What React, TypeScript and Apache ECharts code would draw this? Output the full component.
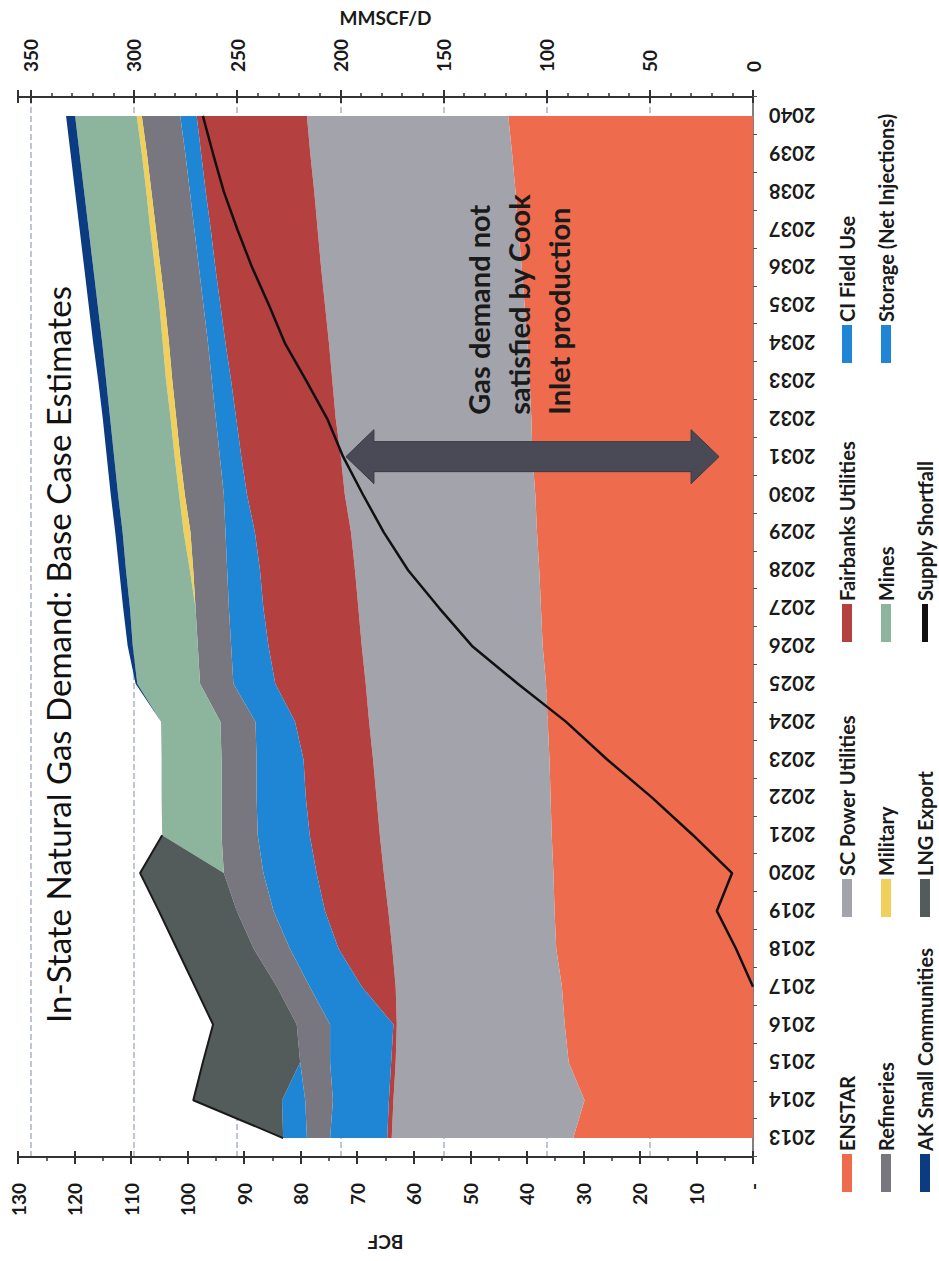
import React, { useEffect, useRef } from 'react';
import * as echarts from 'echarts';

// ---------- data (BCF per year) ----------
const YEARS = ['2013','2014','2015','2016','2017','2018','2019','2020','2021','2022','2023','2024','2025','2026','2027','2028','2029','2030','2031','2032','2033','2034','2035','2036','2037','2038','2039','2040'];

const ENSTAR = [31.8, 29.8, 32.6, 33.3, 33.8, 34.8, 35.1, 35.3, 35.6, 35.8, 36.0, 36.3, 36.6, 37.2, 37.5, 37.8, 38.2, 38.5, 39.0, 39.2, 39.5, 39.9, 40.4, 40.9, 41.5, 42.0, 42.6, 43.3];
const SC_POWER = [32.1, 33.8, 30.6, 29.7, 29.4, 29.0, 29.4, 30.0, 30.4, 30.8, 31.2, 31.6, 31.9, 32.0, 32.3, 32.6, 32.9, 33.7, 33.9, 34.6, 34.9, 35.1, 35.3, 35.5, 35.5, 35.6, 35.7, 35.6];
const FAIRBANKS = [0.8, 0.8, 0.8, 0.6, 6.0, 9.5, 11.2, 11.9, 12.4, 12.5, 12.3, 13.1, 16.0, 16.5, 16.8, 16.8, 17.0, 17.3, 17.6, 17.6, 17.9, 18.3, 18.5, 18.7, 18.9, 19.2, 19.3, 19.5];
const CI_FIELD_USE = [10.1, 9.9, 10.8, 11.2, 9.2, 8.6, 9.1, 9.4, 9.2, 8.7, 8.3, 7.0, 7.4, 6.6, 6.1, 5.8, 5.2, 4.1, 3.8, 3.6, 3.4, 3.1, 3.0, 2.9, 2.9, 2.8, 2.8, 2.9];
const REFINERIES = [4.1, 4.9, 5.3, 5.9, 5.8, 6.4, 6.5, 7.0, 6.4, 6.2, 6.2, 6.2, 5.9, 5.9, 5.9, 6.0, 6.2, 6.9, 7.0, 7.0, 7.0, 6.9, 6.8, 6.8, 6.8, 6.8, 6.8, 6.8];
const MILITARY = [0, 0, 0, 0, 0, 0, 0, 0, 0, 0, 0, 0, 0, 0, 0, 0.6, 1.2, 1.0, 1.0, 1.0, 1.1, 1.1, 1.0, 1.0, 1.0, 0.9, 0.9, 0.9];
const MINES = [0, 0, 0, 0, 0, 0, 0, 0, 10.5, 10.6, 10.6, 10.5, 11.1, 11.5, 11.6, 11.3, 10.8, 10.8, 10.7, 10.7, 10.6, 10.7, 10.9, 10.9, 10.9, 11.0, 11.0, 10.9];
const STORAGE = [4.2, 4.1, 0, 0, 0, 0, 0, 0, 0, 0, 0, 0, 0, 0, 0, 0, 0, 0, 0, 0, 0, 0, 0, 0, 0, 0, 0, 0];
const AK_SMALL = [0, 0, 0, 0, 0, 0, 0, 0, 0, 0, 0, 0, 0.3, 0.9, 1.2, 1.2, 1.3, 1.3, 1.3, 1.3, 1.4, 1.6, 1.6, 1.6, 1.6, 1.6, 1.6, 1.6];
const LNG_EXPORT = [0, 15.7, 17.2, 14.8, 14.5, 13.6, 13.8, 14.8, 0, null, null, null, null, null, null, null, null, null, null, null, null, null, null, null, null, null, null, null];
const SUPPLY_SHORTFALL = [null, null, null, null, 0, 3.0, 6.4, 3.7, 10.6, 17.9, 25.8, 33.1, 41.6, 49.7, 55.5, 61.0, 65.3, 69.0, 72.5, 75.3, 79.0, 82.8, 85.6, 88.6, 91.2, 93.6, 95.5, 97.3];

const BCF_MAX = 130;
const MMSCFD_MAX = (BCF_MAX * 1000) / 365;

// annotation anchor (data space)
const ARROW_YEAR = '2031';
const ARROW_FROM = 72;
const ARROW_TO = 6;
const NOTE_VALUE = 48.6;
const NOTE_LINES = ['Gas demand not', 'satisfied by Cook', 'Inlet production'];

const TITLE = 'In-State Natural Gas Demand: Base Case Estimates';

const W = 1261;
const H = 939;
const FONT = 'Lato';
const TXT = '#1a1a1a';

export default function App() {
  const ref = useRef<HTMLDivElement>(null);

  useEffect(() => {
    if (!ref.current) return;
    const chart = echarts.init(ref.current, null, { renderer: 'svg' });

    const area = (name: string, data: any[], color: string, extra: any = {}) => ({
      name,
      type: 'line',
      stack: 'demand',
      data,
      symbol: 'none',
      showSymbol: false,
      color,
      itemStyle: { color },
      lineStyle: { width: 0, color },
      areaStyle: { color, opacity: 1 },
      emphasis: { disabled: true },
      silent: true,
      ...extra,
    });

    const series: any[] = [
      area('ENSTAR', ENSTAR, '#EF6B4E'),
      area('SC Power Utilities', SC_POWER, '#A3A3AB'),
      area('Fairbanks Utilities', FAIRBANKS, '#B4413F'),
      area('CI Field Use', CI_FIELD_USE, '#1E86D4'),
      area('Refineries', REFINERIES, '#78777F'),
      area('Military', MILITARY, '#F0CF5A'),
      area('Mines', MINES, '#8DB49C'),
      area('Storage (Net Injections)', STORAGE, '#1E86D4'),
      area('AK Small Communities', AK_SMALL, '#0B3B80'),
      area('LNG Export', LNG_EXPORT, '#535C5B', {
        lineStyle: { width: 2, color: '#1a1a1a' },
        connectNulls: false,
      }),
      {
        name: 'Supply Shortfall',
        type: 'line',
        data: SUPPLY_SHORTFALL,
        symbol: 'none',
        showSymbol: false,
        color: '#111',
        itemStyle: { color: '#111' },
        lineStyle: { width: 2.5, color: '#111' },
        emphasis: { disabled: true },
        silent: true,
        z: 5,
      },
    ];

    const colLeft = [69, 344, 619, 898];
    const rowMid = [849, 888, 927];
    const legendItems = [
      ['ENSTAR', 0, 0], ['SC Power Utilities', 1, 0], ['Fairbanks Utilities', 2, 0], ['CI Field Use', 3, 0],
      ['Refineries', 0, 1], ['Military', 1, 1], ['Mines', 2, 1], ['Storage (Net Injections)', 3, 1],
      ['AK Small Communities', 0, 2], ['LNG Export', 1, 2], ['Supply Shortfall', 2, 2],
    ] as [string, number, number][];

    const legends = legendItems.map(([name, c, r]) => ({
      data: [name],
      left: colLeft[c],
      top: rowMid[r] - 12,
      padding: 0,
      itemWidth: 38,
      itemHeight: name === 'Supply Shortfall' ? 6 : 10,
      icon: 'rect',
      selectedMode: false,
      textStyle: { fontFamily: FONT, fontSize: 20, fontWeight: 'bold', color: TXT, padding: [0, 0, 0, -2] },
    }));

    const labelStyle = { fontFamily: FONT, fontSize: 19, fontWeight: 'bold', color: TXT };

    const option: any = {
      animation: false,
      backgroundColor: '#ffffff',
      textStyle: { fontFamily: FONT },
      title: {
        text: TITLE,
        left: 238,
        top: 41,
        padding: 0,
        textStyle: { fontFamily: FONT, fontSize: 33, fontWeight: 'normal', color: '#111' },
      },
      legend: legends,
      grid: { left: 104, right: 95, top: 18, bottom: 186, containLabel: false },
      xAxis: {
        type: 'category',
        data: YEARS,
        boundaryGap: true,
        axisLine: { lineStyle: { color: '#555', width: 1.5 } },
        axisTick: { show: true, length: 4, lineStyle: { color: '#555' } },
        axisLabel: { rotate: 90, margin: 16, interval: 0, fontFamily: FONT, fontSize: 20, fontWeight: 'bold', color: TXT },
        splitLine: { show: false },
      },
      yAxis: [
        {
          type: 'value', min: 0, max: BCF_MAX, interval: 10, position: 'left',
          name: 'BCF', nameLocation: 'middle', nameRotate: 90, nameGap: 76,
          nameTextStyle: labelStyle,
          axisLine: { show: true, lineStyle: { color: '#333', width: 2 } },
          axisTick: { show: true, length: 7, lineStyle: { color: '#333', width: 2 } },
          minorTick: { show: true, splitNumber: 2, length: 4, lineStyle: { color: '#333', width: 1.5 } },
          axisLabel: { margin: 26, formatter: (v: number) => (v === 0 ? '-' : String(v)), ...labelStyle },
          splitLine: { show: false },
        },
        {
          type: 'value', min: 0, max: MMSCFD_MAX, interval: 50, position: 'right',
          name: 'MMSCF/D', nameLocation: 'middle', nameRotate: -90, nameGap: 70,
          nameTextStyle: labelStyle,
          axisLine: { show: true, lineStyle: { color: '#333', width: 2 } },
          axisTick: { show: true, length: 7, lineStyle: { color: '#333', width: 2 } },
          axisLabel: { margin: 25, formatter: (v: number) => (Math.abs(v % 50) < 1e-6 ? String(v) : ''), ...labelStyle },
          splitLine: { show: true, showMaxLine: false, showMinLine: false, lineStyle: { type: 'dashed', color: '#aab4c3', width: 1.5 } },
        },
        {
          type: 'value', min: 0, max: MMSCFD_MAX, interval: 10, position: 'right',
          axisLine: { show: false },
          axisTick: { show: true, length: 4, lineStyle: { color: '#333', width: 1.5 } },
          axisLabel: { show: false },
          splitLine: { show: false },
        },
        {
          type: 'value', min: 0, max: BCF_MAX, interval: 10, position: 'left',
          axisLine: { show: false },
          axisTick: { show: true, inside: true, length: 6, lineStyle: { color: '#333', width: 2 } },
          axisLabel: { show: false },
          splitLine: { show: false },
        },
        {
          type: 'value', min: 0, max: MMSCFD_MAX, interval: 50, position: 'right',
          axisLine: { show: false },
          axisTick: { show: true, inside: true, length: 6, lineStyle: { color: '#333', width: 2 } },
          axisLabel: { show: false },
          splitLine: { show: false },
        },
      ],
      series,
    };

    chart.setOption(option);

    const finder = { xAxisIndex: 0, yAxisIndex: 0 };
    const pTop = chart.convertToPixel(finder, [ARROW_YEAR, ARROW_FROM]) as number[];
    const pBot = chart.convertToPixel(finder, [ARROW_YEAR, ARROW_TO]) as number[];
    const pNote = chart.convertToPixel(finder, [ARROW_YEAR, NOTE_VALUE]) as number[];
    if (pTop && pBot && pNote) {
      const x = pTop[0];
      const yT = pTop[1];
      const yB = pBot[1];
      const hw = 27;
      const sw = 15;
      const hl = 28;
      const points = [
        [x, yT], [x + hw, yT + hl], [x + sw, yT + hl], [x + sw, yB - hl], [x + hw, yB - hl],
        [x, yB], [x - hw, yB - hl], [x - sw, yB - hl], [x - sw, yT + hl], [x - hw, yT + hl],
      ];
      chart.setOption({
        graphic: [
          {
            type: 'polygon',
            silent: true,
            z: 10,
            shape: { points },
            style: { fill: '#4A4A57', stroke: '#3a3a45', lineWidth: 1 },
          },
          {
            type: 'text',
            silent: true,
            z: 11,
            x: x + 42,
            y: pNote[1] - 20,
            style: {
              text: NOTE_LINES.join('\n'),
              font: `bold 29px ${FONT}`,
              lineHeight: 40,
              fill: TXT,
              verticalAlign: 'top',
              align: 'left',
            },
          },
        ],
      });
    }

    return () => chart.dispose();
  }, []);

  return (
    <div style={{ position: 'absolute', left: 0, top: 0, width: 939, height: 1261, overflow: 'hidden', background: '#ffffff' }}>
      <div
        ref={ref}
        style={{
          position: 'absolute',
          left: 0,
          top: 0,
          width: W,
          height: H,
          transformOrigin: '0 0',
          transform: `translateY(${W}px) rotate(-90deg)`,
        }}
      />
    </div>
  );
}
